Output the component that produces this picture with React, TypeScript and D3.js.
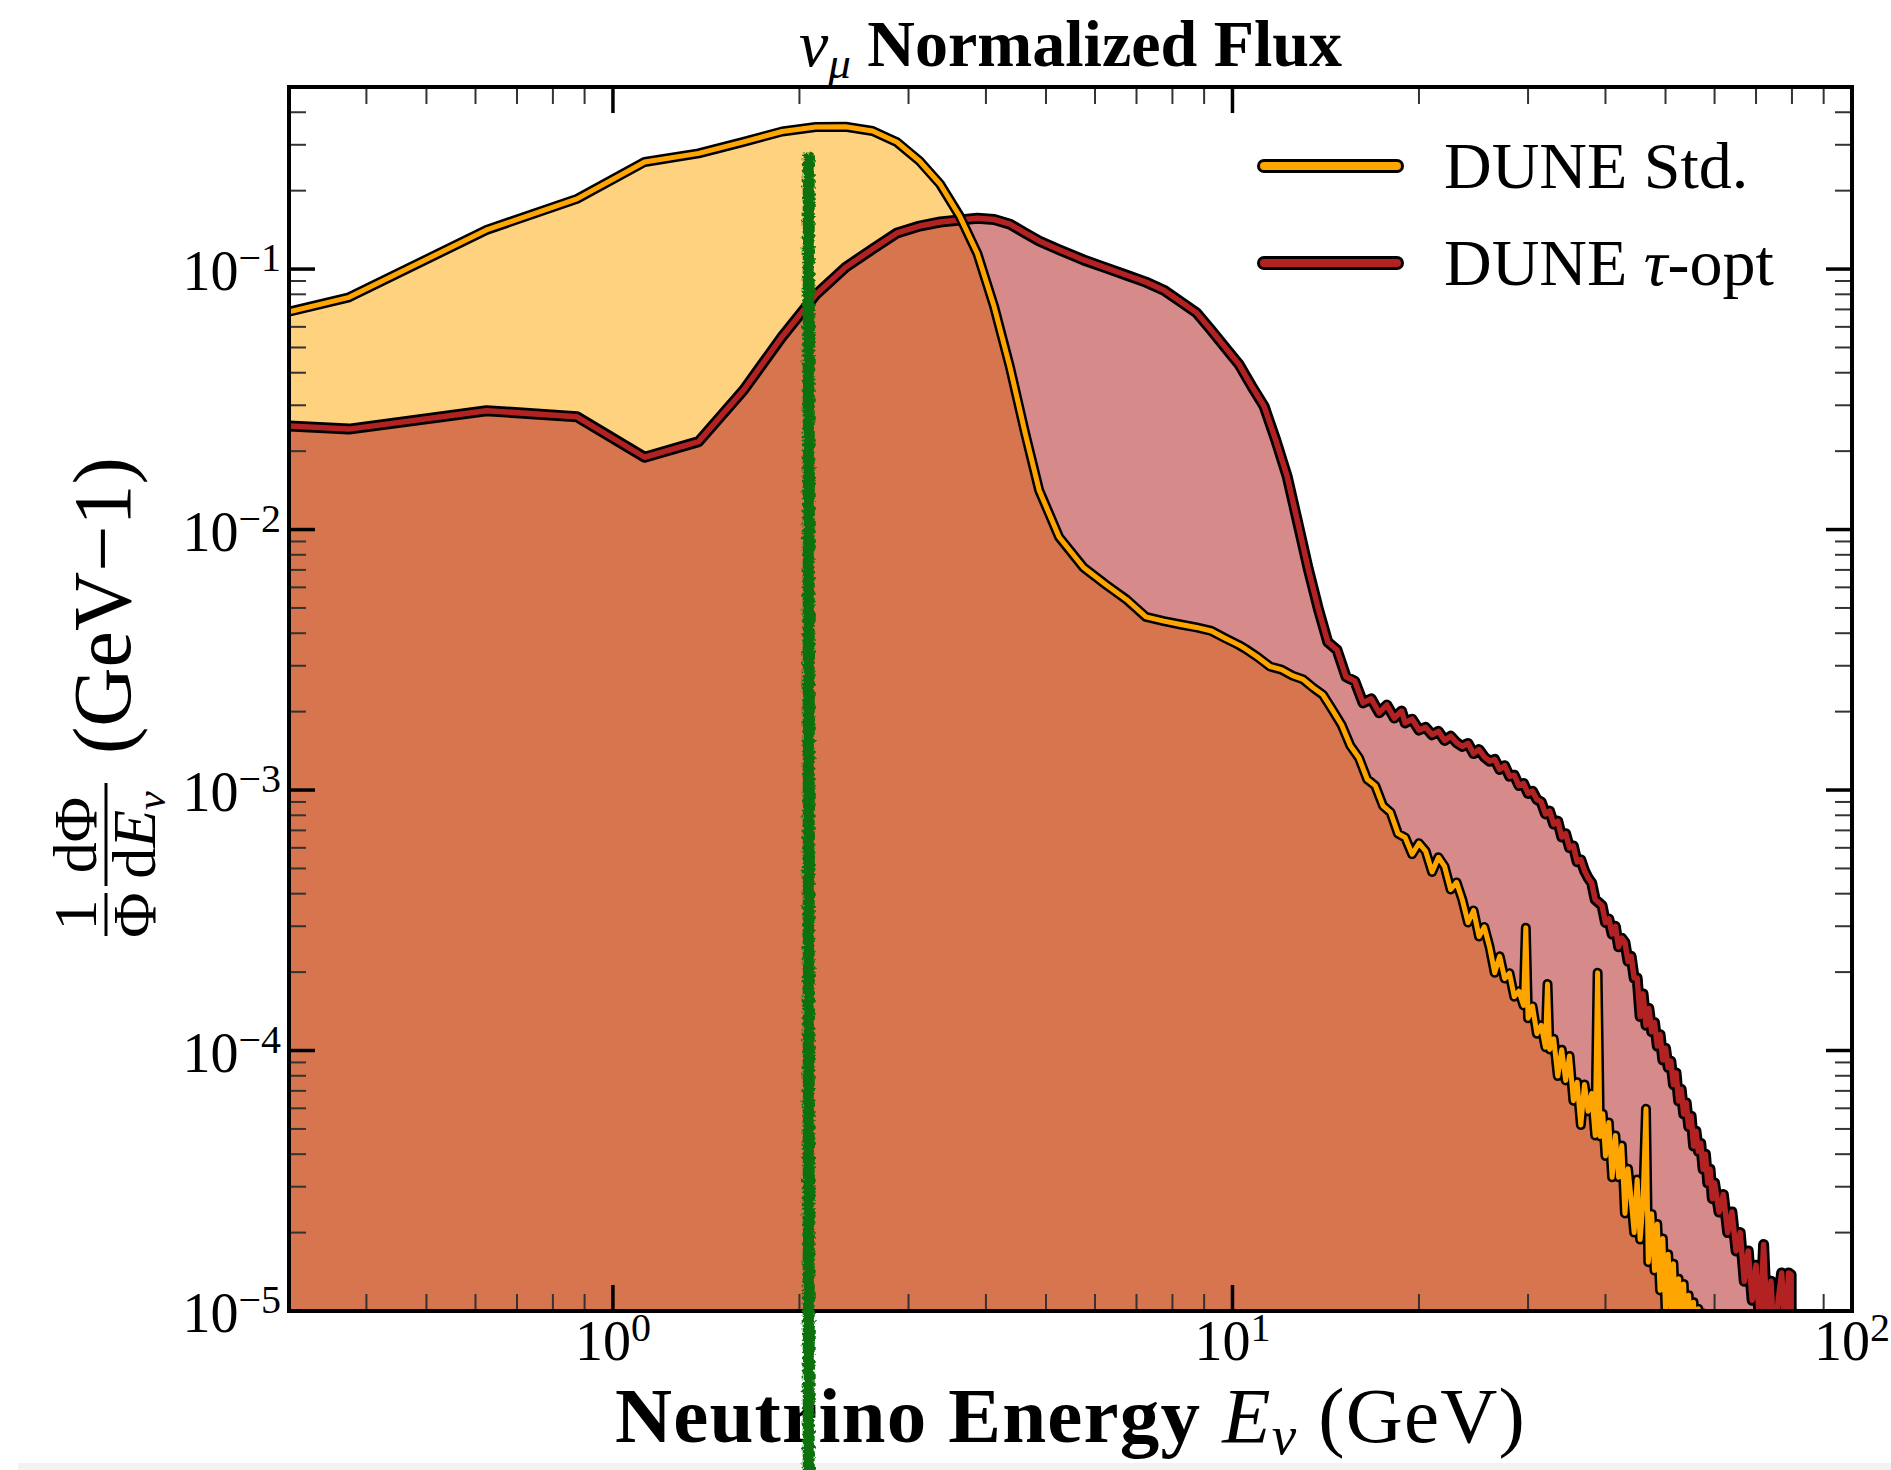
import React from 'react';
import * as d3 from 'd3';

// ---- data -------------------------------------------------------------
// DUNE standard beam, normalized nu_mu flux (1/GeV)
const stdEnergy = [
  0.3, 0.375, 0.625, 0.875, 1.125, 1.375, 1.625, 1.875, 2.125, 2.375, 2.625, 2.875,
  3.125, 3.375, 3.625, 3.875, 4.125, 4.375, 4.625, 4.875, 5.25, 5.75, 6.25, 6.75,
  7.25, 7.75, 8.25, 8.75, 9.25, 9.75, 10.25, 10.5, 11, 11.5, 12, 12.5, 13, 13.5, 14,
  14.5, 15, 15.5, 16, 16.5, 17, 17.5, 18, 18.5,
  19, 19.5, 20, 20.5, 21, 21.5, 22, 22.5, 23, 23.5, 24, 24.5, 25, 25.5, 26, 26.5,
  27, 27.5, 28, 28.5, 29, 29.5, 29.75, 30, 30.5, 31, 31.5, 32, 32.25, 32.5, 33, 33.5,
  34, 34.5, 35, 35.5, 36, 36.5, 37, 37.5, 38, 38.5, 38.85, 39.2, 39.6, 40, 40.5, 41,
  41.5, 42, 42.5, 43, 43.5, 44, 44.5, 45, 45.5, 46, 46.5, 46.9, 47.5, 48, 48.5, 49,
  49.5, 50, 50.5, 51, 51.5, 52, 52.5, 53, 53.5, 54, 54.5, 55, 55.5, 56, 56.5, 57,
  57.5, 58,
];
const stdFlux = [
  0.0686, 0.0779, 0.1413, 0.186, 0.2577, 0.278, 0.308, 0.3375, 0.351, 0.352, 0.339, 0.3067,
  0.26, 0.2116, 0.1603, 0.1147, 0.0716, 0.04195, 0.0236, 0.01416, 0.00936, 0.00715, 0.00614, 0.00538,
  0.00462, 0.00445, 0.00432, 0.00421, 0.00408, 0.00382, 0.0036, 0.00348, 0.00323, 0.00298, 0.0029, 0.00275, 0.00266, 0.00247, 0.00232,
  0.00203, 0.00178, 0.00148, 0.00133, 0.0011, 0.00104, 0.00087, 0.00082, 0.00068,
  0.000657, 0.000567, 0.000625, 0.000583, 0.000485, 0.000552, 0.000509, 0.000415, 0.000442, 0.000379, 0.00031, 0.000345, 0.000274, 0.000298, 0.00025, 0.000199,
  0.00023, 0.000189, 0.000198, 0.000161, 0.000169, 0.000149, 0.000296, 0.000133, 0.000148, 0.000116, 0.000125, 0.000103, 0.00018, 0.000101, 0.000111, 0.0000798,
  0.0001007, 0.0000768, 0.0000953, 0.0000642, 0.0000756, 0.0000518, 0.0000741, 0.0000585, 0.0000684, 0.0000472, 0.000199, 0.0000468, 0.0000572, 0.0000394, 0.0000529, 0.0000326,
  0.0000472, 0.0000326, 0.0000432, 0.0000237, 0.0000352, 0.000027, 0.00002, 0.000032, 0.0000188, 0.0000262, 0.0000597, 0.0000154, 0.0000236, 0.0000143, 0.0000216, 0.000012,
  0.000019, 0.0000102, 0.0000165, 0.0000101, 0.0000152, 0.000008, 0.0000133, 0.0000084, 0.0000127, 0.0000066, 0.0000115, 0.0000062, 0.0000108, 0.000005, 0.0000102, 0.000004,
  0.0000098, 0.000001,
];

// DUNE tau-optimized beam, normalized nu_mu flux (1/GeV)
const tauEnergy = [
  0.3, 0.375, 0.625, 0.875, 1.125, 1.375, 1.625, 1.875, 2.125, 2.375, 2.625, 2.875,
  3.125, 3.375, 3.625, 3.875, 4.125, 4.375, 4.625, 4.875, 5.25, 5.75, 6.25, 6.75,
  7.25, 7.75, 8.25, 8.75, 9.25, 9.75, 10.25, 10.75, 11.25, 11.75, 12.25, 12.75, 13.25, 13.75,
  14.25, 14.75, 15.25, 15.75, 16.25, 16.75, 17.25, 17.75, 18.25, 18.75,
  19, 19.5, 20, 20.5, 21, 21.5, 22, 22.5, 23, 23.5, 24, 24.5, 25, 25.5, 26, 26.5,
  27, 27.5, 28, 28.5, 29, 29.5, 30, 30.5, 31, 31.5, 32, 32.5, 33, 33.5, 34, 34.5,
  35, 35.5, 36, 36.5, 37, 37.5, 38, 38.5, 39, 39.5, 40, 40.5, 41, 41.5, 42, 42.5,
  43, 43.5, 44, 44.5, 45, 45.5, 46, 46.5, 47, 47.5, 48, 48.5, 49, 49.5, 50, 50.5,
  51, 51.5, 52, 52.5, 53, 53.5, 54, 54.5, 55, 55.5, 56, 56.5, 57, 57.5, 58, 58.5,
  59, 59.5, 60, 61, 62, 63, 64, 65, 66, 67, 68, 69, 70, 71, 72, 73, 74, 75, 76,
  77, 78, 79, 79.75, 80,
];
const tauFlux = [
  0.025, 0.0243, 0.0286, 0.0271, 0.01895, 0.02175, 0.0343, 0.055, 0.0797, 0.1016, 0.1194, 0.1376,
  0.1463, 0.1516, 0.1543, 0.1567, 0.155, 0.1487, 0.1376, 0.1282, 0.1187, 0.1084, 0.101, 0.0947,
  0.0891, 0.083, 0.0749, 0.068, 0.0581, 0.0498, 0.043, 0.0354, 0.0297, 0.022, 0.01605, 0.0106, 0.00708, 0.00499,
  0.0037, 0.00345, 0.00272, 0.00262, 0.00216, 0.00224, 0.00198, 0.00212, 0.00189, 0.00201,
  0.00181, 0.00187, 0.0017, 0.00174, 0.00163, 0.00168, 0.00155, 0.00161, 0.00152, 0.00147, 0.00151, 0.00138, 0.00143, 0.00134, 0.00129, 0.00131,
  0.0012, 0.00124, 0.00113, 0.00114, 0.00104, 0.00106, 0.00097, 0.00099, 0.00092, 0.0009, 0.00081, 0.00083, 0.00074, 0.00076, 0.00066, 0.00068,
  0.0006, 0.00061, 0.00053, 0.00054, 0.00049, 0.00046, 0.00044, 0.00038, 0.00037, 0.00036, 0.00031, 0.00032, 0.00028, 0.0003, 0.00025, 0.00027,
  0.00026, 0.00022, 0.00023, 0.00019, 0.00019, 0.000135, 0.000165, 0.000125, 0.000145, 0.000118, 0.000128, 0.000104, 0.000115, 0.000092, 0.000102, 0.000086,
  0.000091, 0.000074, 0.000082, 0.000064, 0.000071, 0.000057, 0.000063, 0.000051, 0.000056, 0.000043, 0.000049, 0.000041, 0.000044, 0.000035, 0.00004, 0.000031,
  0.000035, 0.000027, 0.000031, 0.000024, 0.000028, 0.00002, 0.000024, 0.000017, 0.00002, 0.000013, 0.000017, 0.000011, 0.000015, 0.0000085, 0.000018, 0.0000085, 0.000013, 0.000007, 0.000011,
  0.000014, 0.000008, 0.000014, 0.0000138, 0.0000001,
];

// hand-drawn marker at this energy (GeV), from this flux level down
const markerEnergy = 2.07;
const markerTop = 0.28;

const xExponents = ['0', '1', '2'];
const yExponents = ['−1', '−2', '−3', '−4', '−5'];
const legendLabels = ['DUNE Std.', 'DUNE τ-opt'];

// ---- layout -----------------------------------------------------------
const W = 1891;
const H = 1470;
const L = 289, R = 1852, T = 87, B = 1311;

const ORANGE = '#FFA500';
const RED = '#B22222';
const SERIF = "'Liberation Serif', 'DejaVu Serif', serif";

export default function App() {
  const x = d3.scaleLog().domain([0.3, 100]).range([L, R]);
  const y = d3.scaleLog().domain([1e-5, 0.5]).range([B, T]);

  const mkLine = (E: number[], F: number[]) =>
    d3.line<number>().x((_, i) => x(E[i])).y((d) => y(d))(F) || '';
  const mkArea = (E: number[], F: number[]) =>
    d3.area<number>().x((_, i) => x(E[i])).y0(B + 30).y1((d) => y(d))(F) || '';

  const isMajor = (v: number) => Math.abs(Math.log10(v) - Math.round(Math.log10(v))) < 1e-9;
  const xTicks = x.ticks().filter((v) => v > 0.3001 && v < 99.99);
  const yTicks = y.ticks().filter((v) => v > 1.0001e-5 && v < 0.4999);
  const xMajor = [1, 10, 100];
  const yMajor = [1e-1, 1e-2, 1e-3, 1e-4, 1e-5];

  const majLen = 26, minLen = 17;
  const mx = x(markerEnergy);
  const my = y(markerTop);

  return (
    <svg width={W} height={H} style={{ position: 'absolute', left: 0, top: 0, background: '#fff' }}
      fontFamily={SERIF}>
      <defs>
        <clipPath id="plotClip">
          <rect x={L} y={T} width={R - L} height={B - T} />
        </clipPath>
        <filter id="rough" filterUnits="userSpaceOnUse" x={mx - 40} y={my - 20} width={80} height={H - my + 40}>
          <feTurbulence type="fractalNoise" baseFrequency="0.3" numOctaves="2" seed="3" result="n" />
          <feDisplacementMap in="SourceGraphic" in2="n" scale="6" xChannelSelector="R" yChannelSelector="G" />
        </filter>
      </defs>
      <rect x={0} y={0} width={W} height={H} fill="#fff" />

      {/* filled fluxes */}
      <g clipPath="url(#plotClip)">
        <path d={mkArea(stdEnergy, stdFlux)} fill={ORANGE} fillOpacity={0.5} />
        <path d={mkArea(tauEnergy, tauFlux)} fill={RED} fillOpacity={0.53} />
      </g>

      {/* ticks on all four sides, pointing inward */}
      <g>
        {xTicks.map((v, i) => {
          const mj = isMajor(v);
          const len = mj ? majLen : minLen;
          const px = x(v);
          return (
            <g key={'xt' + i} stroke={mj ? '#000' : '#333'} strokeWidth={mj ? 3.5 : 2}>
              <line x1={px} x2={px} y1={B} y2={B - len} />
              <line x1={px} x2={px} y1={T} y2={T + len} />
            </g>
          );
        })}
        {yTicks.map((v, i) => {
          const mj = isMajor(v);
          const len = mj ? majLen : minLen;
          const py = y(v);
          return (
            <g key={'yt' + i} stroke={mj ? '#000' : '#333'} strokeWidth={mj ? 3.5 : 2}>
              <line x1={L} x2={L + len} y1={py} y2={py} />
              <line x1={R} x2={R - len} y1={py} y2={py} />
            </g>
          );
        })}
      </g>

      {/* flux curves with dark outline */}
      <g clipPath="url(#plotClip)" fill="none" strokeLinejoin="round">
        <path d={mkLine(tauEnergy, tauFlux)} stroke="#000" strokeWidth={11} />
        <path d={mkLine(tauEnergy, tauFlux)} stroke={RED} strokeWidth={5.5} />
        <path d={mkLine(stdEnergy, stdFlux)} stroke="#000" strokeWidth={10} />
        <path d={mkLine(stdEnergy, stdFlux)} stroke={ORANGE} strokeWidth={5} />
      </g>

      {/* frame */}
      <rect x={L} y={T} width={R - L} height={B - T} fill="none" stroke="#000" strokeWidth={4} />

      {/* tick labels */}
      <g fontSize={56} fill="#000">
        {xMajor.map((v, i) => (
          <text key={'xl' + i} x={x(v)} y={1360} textAnchor="middle">
            10<tspan fontSize={40} dy={-19}>{xExponents[i]}</tspan>
          </text>
        ))}
        {yMajor.map((v, i) => (
          <text key={'yl' + i} x={281} y={y(v) + 21} textAnchor="end">
            10<tspan fontSize={40} dy={-19}>{yExponents[i]}</tspan>
          </text>
        ))}
      </g>

      {/* title */}
      <text x={(L + R) / 2} y={66} textAnchor="middle" fontSize={66} fill="#000">
        <tspan fontStyle="italic">ν</tspan>
        <tspan fontStyle="italic" fontSize={45} dy={12}>μ</tspan>
        <tspan fontWeight="bold" dy={-12}> Normalized Flux</tspan>
      </text>

      {/* x label */}
      <text x={(L + R) / 2} y={1442} textAnchor="middle" fontSize={79} fill="#000" letterSpacing={1.2}>
        <tspan fontWeight="bold">Neutrino Energy </tspan>
        <tspan fontStyle="italic">E</tspan>
        <tspan fontStyle="italic" fontSize={55} dy={12}>ν</tspan>
        <tspan dy={-12}> (GeV)</tspan>
      </text>

      {/* y label: (1/Φ) dΦ/dEν (GeV−1) */}
      <g transform="translate(130, 936) rotate(-90)" fill="#000">
        <text x={21} y={-34} textAnchor="middle" fontSize={62}>1</text>
        <text x={21} y={25} textAnchor="middle" fontSize={62}>Φ</text>
        <line x1={0} x2={43} y1={-24} y2={-24} stroke="#000" strokeWidth={3} />
        <text x={101} y={-34} textAnchor="middle" fontSize={62}>dΦ</text>
        <text x={101} y={25} textAnchor="middle" fontSize={62}>
          d<tspan fontStyle="italic">E</tspan>
          <tspan fontStyle="italic" fontSize={42} dy={10}>ν</tspan>
        </text>
        <line x1={50} x2={153} y1={-24} y2={-24} stroke="#000" strokeWidth={3} />
        <text x={182} y={0} fontSize={82}>(GeV−1)</text>
      </g>

      {/* legend */}
      <g>
        {[ORANGE, RED].map((c, i) => {
          const ly = 166 + i * 97;
          return (
            <g key={'lg' + i}>
              <line x1={1264} x2={1397} y1={ly} y2={ly} stroke="#000" strokeWidth={14} strokeLinecap="round" />
              <line x1={1264} x2={1397} y1={ly} y2={ly} stroke={c} strokeWidth={8} strokeLinecap="round" />
              <text x={1444} y={ly + 22} fontSize={66} fill="#000">
                {i === 0 ? legendLabels[0] : (
                  <>
                    DUNE <tspan fontStyle="italic">τ</tspan>-opt
                  </>
                )}
              </text>
            </g>
          );
        })}
      </g>

      {/* faint strip along the bottom edge */}
      <rect x={18} y={1463} width={W - 18} height={7} fill="#f2f2f2" />

      {/* hand-drawn green marker */}
      <rect x={mx - 6} y={my} width={12} height={H - my + 10} fill="#0a720a" filter="url(#rough)" />
    </svg>
  );
}
